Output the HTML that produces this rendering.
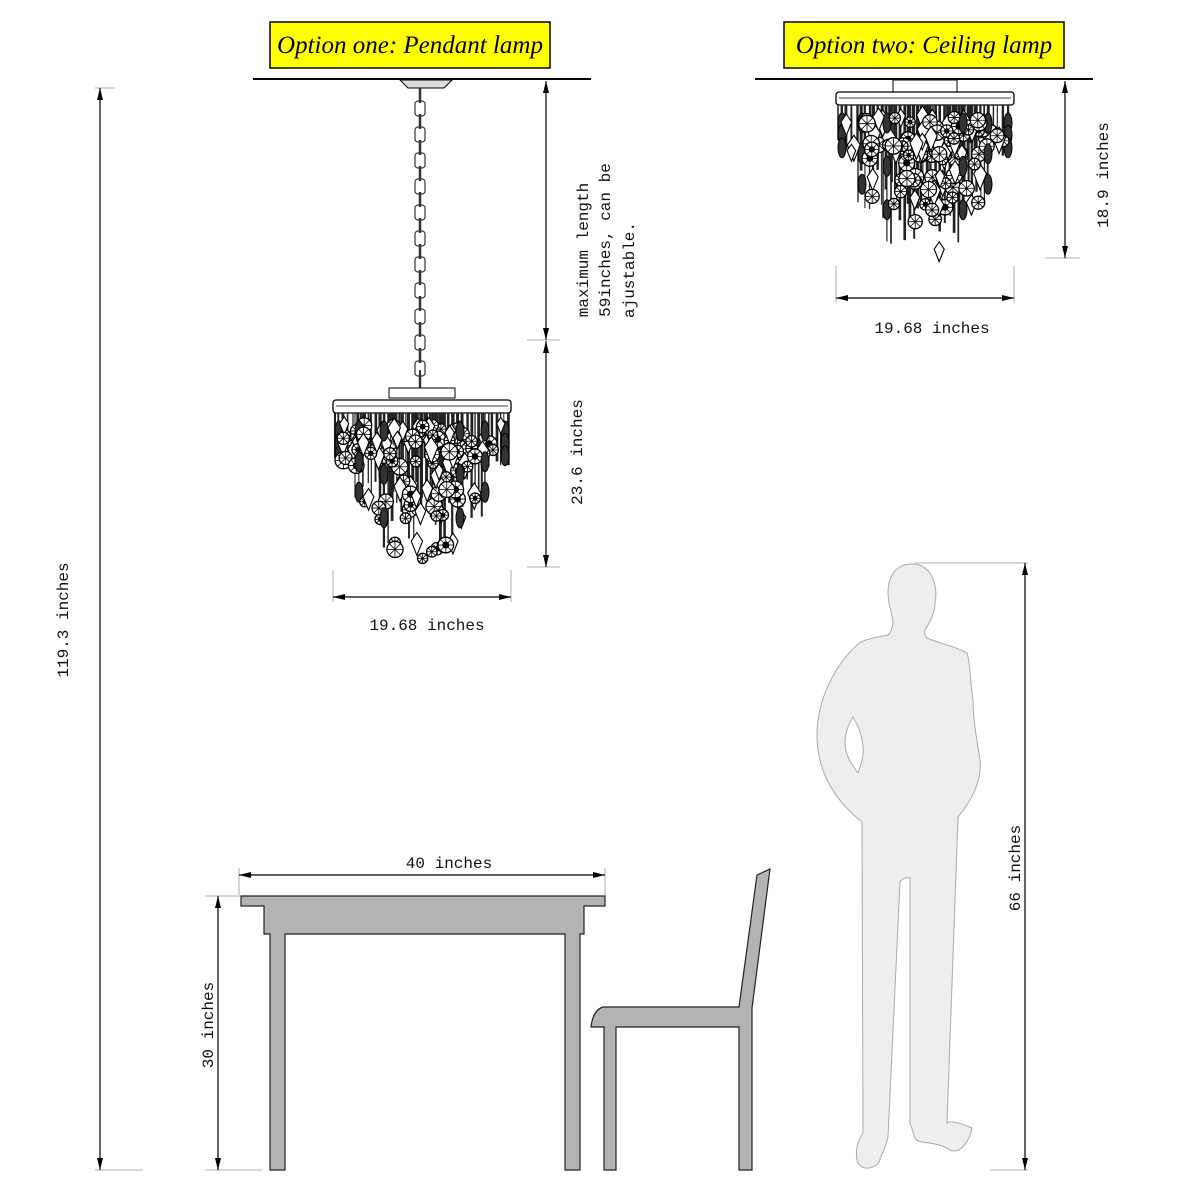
<!DOCTYPE html>
<html><head><meta charset="utf-8"><style>
html,body{margin:0;padding:0;background:#fff}
svg{display:block}
.m{font-family:"Liberation Mono","DejaVu Sans Mono",monospace;font-size:16px;fill:#111}
.t{font-family:"Liberation Serif",serif;font-style:italic;font-size:25px;fill:#000}
</style></head><body>
<svg id="s" width="1200" height="1200" viewBox="0 0 1200 1200" xmlns="http://www.w3.org/2000/svg">
<defs>
<marker id="a" viewBox="0 0 12 6" refX="12" refY="3" markerWidth="12" markerHeight="6" orient="auto-start-reverse" markerUnits="userSpaceOnUse"><path d="M0,0L12,3L0,6z" fill="#000"/></marker>
</defs>
<rect x="270" y="22" width="280" height="46" fill="#ffff00" stroke="#000" stroke-width="1.5"/>
<text class="t" x="410" y="53" text-anchor="middle">Option one: Pendant lamp</text>
<rect x="784" y="22" width="280" height="46" fill="#ffff00" stroke="#000" stroke-width="1.5"/>
<text class="t" x="924" y="53" text-anchor="middle">Option two: Ceiling lamp</text>
<line x1="253" y1="79" x2="591" y2="79" stroke="#000" stroke-width="2"/>
<line x1="755" y1="79" x2="1093" y2="79" stroke="#000" stroke-width="2"/>
<g id="lamps"></g>
<g stroke="#999" stroke-width="0.8">
<line x1="95" y1="88" x2="115" y2="88"/><line x1="95" y1="1170" x2="143" y2="1170"/>
<line x1="527" y1="340" x2="560" y2="340"/><line x1="527" y1="567" x2="560" y2="567"/>
<line x1="333" y1="570" x2="333" y2="602"/><line x1="511" y1="570" x2="511" y2="602"/>
<line x1="1045" y1="258" x2="1080" y2="258"/>
<line x1="836" y1="266" x2="836" y2="303"/><line x1="1014" y1="266" x2="1014" y2="303"/>
<line x1="915" y1="563" x2="1028" y2="563"/><line x1="990" y1="1170" x2="1028" y2="1170"/>
<line x1="239" y1="868" x2="239" y2="895"/><line x1="605" y1="868" x2="605" y2="895"/>
<line x1="205" y1="896" x2="240" y2="896"/><line x1="205" y1="1170" x2="262" y2="1170"/>
</g>
<g stroke="#000" stroke-width="1.2" marker-start="url(#a)" marker-end="url(#a)">
<line x1="100" y1="88" x2="100" y2="1170"/>
<line x1="546" y1="81" x2="546" y2="340"/>
<line x1="546" y1="341" x2="546" y2="567"/>
<line x1="333" y1="597" x2="511" y2="597"/>
<line x1="1065" y1="81" x2="1065" y2="258"/>
<line x1="836" y1="298" x2="1014" y2="298"/>
<line x1="1025" y1="563" x2="1025" y2="1170"/>
<line x1="239" y1="875" x2="605" y2="875"/>
<line x1="218" y1="896" x2="218" y2="1170"/>
</g>
<text class="m" transform="translate(68,620) rotate(-90)" text-anchor="middle">119.3 inches</text>
<text class="m" transform="translate(582,452) rotate(-90)" text-anchor="middle">23.6 inches</text>
<text class="m" transform="translate(588,250) rotate(-90)" text-anchor="middle">maximum length</text>
<text class="m" transform="translate(610,240) rotate(-90)" text-anchor="middle">59inches, can be</text>
<text class="m" transform="translate(634,270) rotate(-90)" text-anchor="middle">ajustable.</text>
<text class="m" x="427" y="630" text-anchor="middle">19.68 inches</text>
<text class="m" transform="translate(1108,175) rotate(-90)" text-anchor="middle">18.9 inches</text>
<text class="m" x="932" y="333" text-anchor="middle">19.68 inches</text>
<text class="m" transform="translate(1020,868) rotate(-90)" text-anchor="middle">66 inches</text>
<text class="m" x="449" y="868" text-anchor="middle">40 inches</text>
<text class="m" transform="translate(213,1025) rotate(-90)" text-anchor="middle">30 inches</text>
<g fill="#b3b3b3" stroke="#222" stroke-width="1.2">
<path d="M241,896H605V906H584V934H580V1170H565V934H285V1170H270V934H264V906H241Z"/>
<path d="M757,875L770,869L752,1008V1170H739V1027H616V1170H604V1027H591Q593,1010 603,1007H739Z"/>
</g>
<path fill="#eeeeee" stroke="#aaa" stroke-width="1" fill-rule="evenodd" d="M912,564C896,564 888,576 888,593C888,606 893,615 893,622C893,628 890,633 888,635C872,638 862,640 857,645C835,665 817,700 817,735C817,765 828,795 862,822L863,1133C858,1140 855,1150 857,1160C860,1170 870,1170 878,1164C884,1150 886,1145 888,1137L900,882C902,878 908,877 910,878V1123L915,1138C918,1145 935,1140 950,1150C960,1155 970,1140 972,1128C960,1123 950,1120 947,1123L958,817C972,800 982,780 980,760C977,740 973,720 973,700C970,680 970,660 967,653C955,646 935,642 927,638C925,636 924,632 925,630C930,622 935,613 935,603C938,590 934,564 912,564ZM853,717C848,725 845,733 845,743C845,755 852,765 858,773C862,762 864,755 863,747C862,735 858,725 853,717Z"/>
</svg>
<script>
(function(){
var g=document.getElementById('lamps'),out='';
function R(s){return function(){s=(s*9301+49297)%233280;return s/233280;}}
function wheel(x,y,r,rnd){
 var s='<circle cx="'+x.toFixed(1)+'" cy="'+y.toFixed(1)+'" r="'+r.toFixed(1)+'" fill="#fff" stroke="#000" stroke-width="1.3"/>';
 s+='<path d="M'+(x-r)+','+y+'h'+(2*r)+'M'+x+','+(y-r)+'v'+(2*r)+'M'+(x-r*.7)+','+(y-r*.7)+'l'+(1.4*r)+','+(1.4*r)+'M'+(x+r*.7)+','+(y-r*.7)+'l'+(-1.4*r)+','+(1.4*r)+'" stroke="#000" stroke-width=".8"/>';
 if(rnd()<0.35)s+='<circle cx="'+x.toFixed(1)+'" cy="'+y.toFixed(1)+'" r="'+(r*.45).toFixed(1)+'" fill="#000"/>';
 return s;
}
function lamp(cx,plate,rnd){
 var s='';
 var x0=cx-89,x1=cx+89;
 s+='<rect x="'+x0+'" y="'+plate+'" width="178" height="13" rx="3" fill="#fff" stroke="#000" stroke-width="1.3"/>';
 s+='<line x1="'+(x0+3)+'" y1="'+(plate+6)+'" x2="'+(x1-3)+'" y2="'+(plate+6)+'" stroke="#000" stroke-width=".8"/>';
 var b=plate+13;
 var tiers=[[x0+2,x1-2,62],[x0+22,x1-22,117],[x0+47,x1-47,155]];
 for(var t=0;t<3;t++){
  var a=tiers[t][0],e=tiers[t][1],L=tiers[t][2];
  for(var x=a;x<=e;x+=3+rnd()*3){
   var len=L*(0.55+rnd()*0.35);
   s+='<line x1="'+x.toFixed(1)+'" y1="'+b+'" x2="'+x.toFixed(1)+'" y2="'+(b+len).toFixed(1)+'" stroke="#222" stroke-width="'+(1+rnd()*2).toFixed(1)+'"/>';
  }
 }
 for(var t=0;t<3;t++){
  var a=tiers[t][0],e=tiers[t][1],L=tiers[t][2];
  // side drops
  for(var k=0;k<3;k++){
   var yy=b+18+k*((L-25)/3);
   s+='<ellipse cx="'+(a+4)+'" cy="'+yy.toFixed(1)+'" rx="4" ry="10" fill="#333" stroke="#000"/>';
   s+='<ellipse cx="'+(e-4)+'" cy="'+yy.toFixed(1)+'" rx="4" ry="10" fill="#333" stroke="#000"/>';
  }
  var n=t==0?60:t==1?40:24;
  for(var i=0;i<n;i++){
   var x=a+8+rnd()*(e-a-16),y=b+12+rnd()*(L-20),r=5+rnd()*3.5;
   if(rnd()<0.3){s+='<path d="M'+x.toFixed(1)+','+(y-r*1.6).toFixed(1)+'l'+(r*.8).toFixed(1)+','+(r*1.2).toFixed(1)+'l'+(-r*.8).toFixed(1)+','+(r*2).toFixed(1)+'l'+(-r*.8).toFixed(1)+','+(-r*2).toFixed(1)+'z" fill="#fff" stroke="#000" stroke-width="1.1"/>';}
   else s+=wheel(x,y,r,rnd);
  }
 }
 return s;
}
out+='<path d="M400,80h52l-8,8h-36z" fill="#ddd" stroke="#000"/>';
for(var y=88,i=0;y<378;y+=13,i++){
 if(i%2)out+='<rect x="415" y="'+y+'" width="10" height="15" rx="3" fill="none" stroke="#333" stroke-width="1.2"/>';
 else out+='<line x1="420" y1="'+y+'" x2="420" y2="'+(y+15)+'" stroke="#333" stroke-width="2.5"/>';
}
out+='<line x1="420" y1="370" x2="420" y2="388" stroke="#333" stroke-width="2"/>';
out+='<rect x="389" y="388" width="66" height="10" fill="#fff" stroke="#000"/>';
out+=lamp(422,400,R(7));
out+='<rect x="893" y="80" width="64" height="12" fill="#fff" stroke="#000"/>';
out+=lamp(925,92,R(21));
g.innerHTML=out;
})();
</script>
</body></html>
